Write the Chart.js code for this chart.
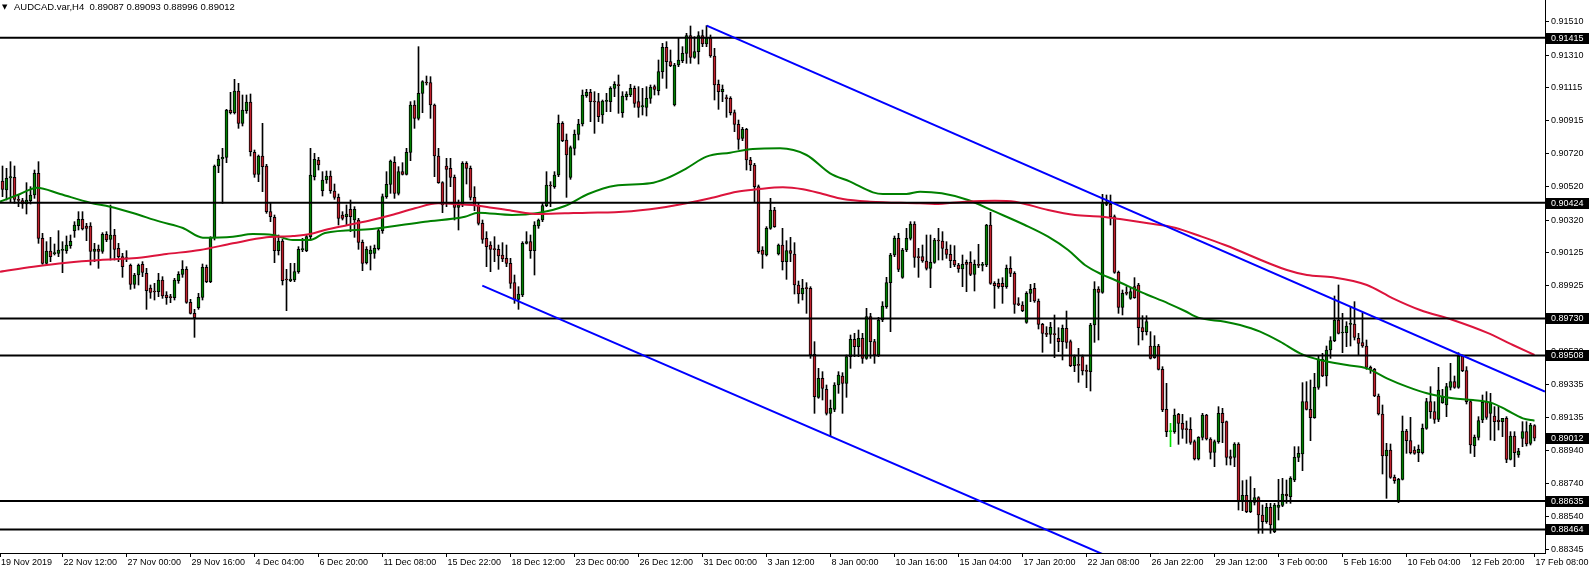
<!DOCTYPE html>
<html>
<head>
    <meta charset="utf-8">
    <title>AUDCAD.var,H4</title>
    <script src="https://cdn.jsdelivr.net/npm/chart.js"></script>
    <style>
        html, body { margin: 0; padding: 0; background: #fff; }
        canvas { display: block; }
    </style>
</head>
<body>
    <canvas id="chart" width="1589" height="569"></canvas>

    <script>
        // H4 bars, 19 Nov 2019 .. 17 Feb 2020
        var opens = [
            0.90555,0.90501,0.90573,0.90577,0.90443,0.90437,0.90417,0.90437,0.90471,0.90601,0.90211,0.90061,
            0.90135,0.90119,0.90121,0.90139,0.90137,0.90167,0.90257,0.90287,0.90325,0.90285,0.90285,0.90133,
            0.90147,0.90133,0.90235,0.90205,0.90231,0.90151,0.90101,0.90093,0.90049,0.89935,0.89991,0.90055,
            0.90001,0.89913,0.89893,0.89891,0.89961,0.89871,0.89859,0.89855,0.89957,0.89995,0.90025,0.89827,
            0.89761,0.89795,0.89857,0.90037,0.89951,0.90213,0.90645,0.90687,0.90697,0.90981,0.90965,0.91095,
            0.90901,0.90977,0.91029,0.90727,0.90595,0.90705,0.90645,0.90371,0.90337,0.90137,0.90195,0.89965,
            0.89957,0.89961,0.90011,0.90143,0.90137,0.90221,0.90581,0.90681,0.90497,0.90561,0.90585,0.90495,
            0.90457,0.90351,0.90341,0.90385,0.90321,0.90321,0.90187,0.90065,0.90117,0.90121,0.90149,0.90257,
            0.90461,0.90535,0.90667,0.90481,0.90611,0.90595,0.90727,0.91011,0.90931,0.91081,0.91147,0.91145,
            0.91011,0.90705,0.90545,0.90645,0.90631,0.90577,0.90397,0.90411,0.90661,0.90631,0.90457,0.90407,
            0.90301,0.90211,0.90171,0.90147,0.90145,0.90111,0.90091,0.90061,0.89945,0.89845,0.89871,0.90181,
            0.90191,0.90137,0.90285,0.90321,0.90407,0.90529,0.90521,0.90591,0.90901,0.90801,0.90577,0.90751,
            0.90835,0.90897,0.91067,0.91087,0.91033,0.91031,0.90951,0.91033,0.91031,0.91111,0.91131,0.90965,
            0.91061,0.91071,0.91111,0.91031,0.90999,0.90997,0.91051,0.91121,0.91097,0.91211,0.91357,0.91271,
            0.91011,0.91251,0.91277,0.91321,0.91427,0.91297,0.91331,0.91427,0.91377,0.91411,0.91305,0.91135,
            0.91091,0.91053,0.91051,0.90965,0.90895,0.90811,0.90865,0.90681,0.90651,0.90521,0.90141,0.90111,
            0.90271,0.90381,0.90117,0.90171,0.90071,0.90137,0.90117,0.89931,0.89877,0.89913,0.89911,0.89515,
            0.89257,0.89371,0.89305,0.89161,0.89185,0.89331,0.89385,0.89341,0.89501,0.89605,0.89561,0.89611,
            0.89491,0.89741,0.89591,0.89511,0.89721,0.89801,0.89945,0.90111,0.90211,0.89977,0.90141,0.90211,
            0.90297,0.90099,0.90101,0.90075,0.90031,0.90067,0.90199,0.90195,0.90147,0.90115,0.90079,0.90051,
            0.90027,0.90067,0.90067,0.89995,0.90053,0.90049,0.90051,0.90291,0.89941,0.89941,0.89941,0.89921,
            0.90031,0.90001,0.89817,0.89811,0.89707,0.89881,0.89911,0.89835,0.89695,0.89639,0.89635,0.89637,
            0.89611,0.89591,0.89671,0.89591,0.89447,0.89453,0.89501,0.89417,0.89411,0.89691,0.89907,0.89887,
            0.90415,0.90415,0.90341,0.90007,0.89797,0.89887,0.89851,0.89921,0.89931,0.89675,0.89651,0.89565,
            0.89495,0.89565,0.89425,0.89185,0.89051,0.89051,0.89155,0.89101,0.89067,0.89065,0.88991,0.88887,
            0.89017,0.89151,0.89007,0.88927,0.88991,0.89161,0.89111,0.88901,0.88897,0.88977,0.88631,0.88669,
            0.88571,0.88627,0.88655,0.88551,0.88511,0.88597,0.88451,0.88597,0.88609,0.88677,0.88661,0.88761,
            0.88897,0.88917,0.89231,0.89185,0.89135,0.89317,0.89485,0.89385,0.89541,0.89597,0.89721,0.89643,
            0.89645,0.89695,0.89697,0.89611,0.89585,0.89565,0.89437,0.89425,0.89265,0.89157,0.88905,0.88941,
            0.88777,0.88631,0.88765,0.89055,0.88997,0.88941,0.88925,0.88925,0.89071,0.89231,0.89171,0.89125,
            0.89225,0.89211,0.89317,0.89351,0.89317,0.89505,0.89417,0.89231,0.88967,0.89017,0.89121,0.89231,
            0.89161,0.89145,0.89121,0.89111,0.89131,0.88885,0.89025,0.88911,0.89011,0.89051,0.88981,0.89087
        ];
        var highs = [
            0.90645,0.90631,0.90671,0.90645,0.90471,0.90451,0.90545,0.90521,0.90621,0.90671,0.90241,0.90191,
            0.90217,0.90177,0.90257,0.90191,0.90225,0.90231,0.90311,0.90371,0.90371,0.90301,0.90305,0.90181,
            0.90171,0.90245,0.90251,0.90411,0.90265,0.90181,0.90121,0.90137,0.90057,0.90001,0.90057,0.90071,
            0.90031,0.89931,0.89941,0.90001,0.89981,0.89891,0.89875,0.89971,0.90011,0.90077,0.90041,0.89845,
            0.89785,0.89881,0.90057,0.90051,0.90221,0.90651,0.90711,0.90751,0.90985,0.91087,0.91165,0.91141,
            0.91071,0.91071,0.91077,0.90741,0.90711,0.90901,0.90655,0.90421,0.90351,0.90231,0.90205,0.90025,
            0.90061,0.90061,0.90161,0.90211,0.90231,0.90751,0.90721,0.90697,0.90611,0.90615,0.90615,0.90537,
            0.90477,0.90371,0.90411,0.90441,0.90401,0.90331,0.90201,0.90161,0.90165,0.90171,0.90271,0.90477,
            0.90611,0.90681,0.90701,0.90641,0.90665,0.90751,0.91031,0.91037,0.91361,0.91157,0.91185,0.91181,
            0.91017,0.90751,0.90551,0.90691,0.90691,0.90591,0.90441,0.90671,0.90671,0.90645,0.90521,0.90421,
            0.90321,0.90251,0.90191,0.90221,0.90171,0.90185,0.90171,0.90091,0.89991,0.89921,0.90191,0.90251,
            0.90231,0.90311,0.90327,0.90421,0.90611,0.90551,0.90611,0.90951,0.90911,0.90837,0.90765,0.90861,
            0.90925,0.91101,0.91105,0.91105,0.91091,0.91081,0.91041,0.91081,0.91121,0.91151,0.91191,0.91091,
            0.91091,0.91135,0.91125,0.91121,0.91111,0.91121,0.91131,0.91131,0.91281,0.91381,0.91391,0.91341,
            0.91261,0.91411,0.91361,0.91441,0.91485,0.91421,0.91451,0.91461,0.91487,0.91431,0.91351,0.91161,
            0.91131,0.91071,0.91061,0.90981,0.90921,0.90877,0.90871,0.90697,0.90661,0.90531,0.90161,0.90281,
            0.90451,0.90397,0.90177,0.90271,0.90197,0.90217,0.90185,0.89955,0.89965,0.89945,0.89921,0.89591,
            0.89431,0.89411,0.89331,0.89241,0.89345,0.89411,0.89405,0.89511,0.89631,0.89641,0.89661,0.89641,
            0.89791,0.89761,0.89605,0.89737,0.89831,0.89977,0.90121,0.90225,0.90241,0.90151,0.90271,0.90311,
            0.90311,0.90151,0.90171,0.90231,0.90231,0.90211,0.90271,0.90251,0.90191,0.90171,0.90167,0.90061,
            0.90111,0.90081,0.90131,0.90081,0.90175,0.90067,0.90295,0.90367,0.89951,0.89967,0.89975,0.90051,
            0.90101,0.90011,0.89855,0.89831,0.89891,0.89935,0.89941,0.89847,0.89701,0.89681,0.89707,0.89751,
            0.89675,0.89691,0.89775,0.89601,0.89511,0.89551,0.89511,0.89451,0.89701,0.89951,0.89921,0.90475,
            0.90471,0.90471,0.90351,0.90015,0.89901,0.89921,0.89911,0.89975,0.89941,0.89747,0.89747,0.89651,
            0.89627,0.89575,0.89441,0.89341,0.89101,0.89187,0.89161,0.89155,0.89115,0.89135,0.89001,0.89021,
            0.89161,0.89155,0.89015,0.89001,0.89201,0.89191,0.89115,0.88941,0.88985,0.88985,0.88757,0.88761,
            0.88781,0.88711,0.88661,0.88611,0.88621,0.88621,0.88621,0.88765,0.88771,0.88761,0.88781,0.88961,
            0.88961,0.89345,0.89351,0.89361,0.89401,0.89505,0.89521,0.89565,0.89621,0.89865,0.89931,0.89761,
            0.89711,0.89801,0.89831,0.89641,0.89765,0.89601,0.89445,0.89431,0.89277,0.89211,0.88981,0.88977,
            0.88791,0.88771,0.89145,0.89065,0.89137,0.88961,0.88971,0.89097,0.89251,0.89321,0.89231,0.89437,
            0.89305,0.89341,0.89461,0.89385,0.89525,0.89511,0.89441,0.89241,0.89031,0.89141,0.89271,0.89291,
            0.89281,0.89201,0.89205,0.89131,0.89141,0.89051,0.89051,0.88951,0.89111,0.89111,0.89101,0.89093
        ];
        var lows = [
            0.90461,0.90441,0.90431,0.90421,0.90401,0.90391,0.90357,0.90417,0.90451,0.90181,0.90055,0.90055,
            0.90071,0.90111,0.90101,0.90005,0.90121,0.90151,0.90217,0.90261,0.90261,0.90197,0.90051,0.90071,
            0.90031,0.90121,0.90191,0.90081,0.90081,0.90071,0.89977,0.90071,0.89905,0.89911,0.89931,0.89981,
            0.89785,0.89851,0.89841,0.89861,0.89851,0.89815,0.89825,0.89841,0.89941,0.89977,0.89821,0.89757,
            0.89617,0.89785,0.89841,0.89945,0.89945,0.90201,0.90605,0.90421,0.90665,0.90957,0.90957,0.90871,
            0.90885,0.90961,0.90705,0.90577,0.90551,0.90491,0.90361,0.90311,0.90065,0.90111,0.89931,0.89777,
            0.89951,0.89951,0.90001,0.90131,0.90131,0.90201,0.90561,0.90621,0.90465,0.90541,0.90481,0.90445,
            0.90291,0.90321,0.90291,0.90251,0.90217,0.90145,0.90017,0.90057,0.90021,0.90091,0.90141,0.90241,
            0.90451,0.90481,0.90451,0.90471,0.90591,0.90591,0.90677,0.90871,0.90921,0.90965,0.91131,0.90931,
            0.90581,0.90541,0.90365,0.90401,0.90521,0.90321,0.90261,0.90401,0.90537,0.90441,0.90377,0.90291,
            0.90181,0.90041,0.90011,0.90071,0.90025,0.90071,0.90041,0.89911,0.89821,0.89785,0.89861,0.90177,
            0.90091,0.89991,0.90271,0.90311,0.90401,0.90401,0.90511,0.90581,0.90791,0.90457,0.90565,0.90711,
            0.90801,0.90885,0.91057,0.90911,0.90841,0.90911,0.90901,0.90971,0.90971,0.91061,0.90961,0.90937,
            0.91041,0.91061,0.90997,0.90937,0.90951,0.90945,0.91021,0.91071,0.91071,0.91171,0.91111,0.91241,
            0.91005,0.91241,0.91265,0.91261,0.91261,0.91291,0.91257,0.91361,0.91361,0.91297,0.91041,0.90985,
            0.91031,0.90937,0.90951,0.90851,0.90745,0.90797,0.90621,0.90617,0.90431,0.90121,0.90031,0.90105,
            0.90265,0.90277,0.90111,0.90021,0.89965,0.90071,0.89877,0.89821,0.89841,0.89761,0.89491,0.89161,
            0.89251,0.89241,0.89151,0.89021,0.89171,0.89281,0.89161,0.89257,0.89431,0.89501,0.89501,0.89461,
            0.89485,0.89491,0.89461,0.89501,0.89711,0.89791,0.89651,0.90101,0.90011,0.89971,0.90131,0.90201,
            0.90037,0.89977,0.90067,0.90021,0.89915,0.90061,0.90081,0.90081,0.90091,0.90035,0.90041,0.90007,
            0.89921,0.89891,0.89987,0.89895,0.90035,0.90015,0.90041,0.89935,0.89791,0.89911,0.89821,0.89911,
            0.89981,0.89761,0.89807,0.89771,0.89701,0.89831,0.89827,0.89667,0.89527,0.89621,0.89581,0.89495,
            0.89531,0.89481,0.89551,0.89441,0.89411,0.89347,0.89391,0.89315,0.89295,0.89587,0.89601,0.89881,
            0.90407,0.90291,0.90001,0.89761,0.89751,0.89871,0.89845,0.89851,0.89571,0.89601,0.89631,0.89487,
            0.89491,0.89421,0.89171,0.89021,0.88961,0.89041,0.88975,0.89011,0.88981,0.88975,0.88881,0.88881,
            0.89001,0.89001,0.88887,0.88841,0.88981,0.88985,0.88851,0.88851,0.88841,0.88581,0.88577,0.88565,
            0.88565,0.88611,0.88441,0.88441,0.88501,0.88441,0.88445,0.88521,0.88601,0.88621,0.88621,0.88751,
            0.88871,0.88817,0.89181,0.88997,0.89131,0.89305,0.89381,0.89325,0.89491,0.89591,0.89637,0.89525,
            0.89561,0.89565,0.89601,0.89511,0.89557,0.89425,0.89401,0.89261,0.89151,0.88797,0.88651,0.88771,
            0.88741,0.88625,0.88761,0.88921,0.88917,0.88915,0.88871,0.88917,0.89065,0.89131,0.89101,0.89111,
            0.89221,0.89141,0.89301,0.89311,0.89311,0.89411,0.89217,0.88921,0.88901,0.89001,0.89105,0.89125,
            0.89001,0.88997,0.89061,0.89021,0.88865,0.88881,0.88841,0.88897,0.88961,0.88965,0.88971,0.88996
        ];
        var closes = [
            0.90505,0.90571,0.90581,0.90445,0.90439,0.90417,0.90441,0.90471,0.90601,0.90211,0.90061,0.90135,
            0.90101,0.90123,0.90141,0.90143,0.90171,0.90193,0.90291,0.90325,0.90267,0.90271,0.90133,0.90147,
            0.90133,0.90235,0.90201,0.90231,0.90145,0.90101,0.90041,0.90089,0.89935,0.89991,0.90049,0.90007,
            0.89897,0.89887,0.89889,0.89961,0.89865,0.89855,0.89855,0.89961,0.89995,0.90025,0.89827,0.89761,
            0.89735,0.89857,0.90037,0.89951,0.90213,0.90645,0.90687,0.90697,0.90981,0.90965,0.91095,0.90901,
            0.90981,0.91029,0.90731,0.90595,0.90705,0.90641,0.90371,0.90341,0.90137,0.90195,0.89957,0.89961,
            0.89967,0.90011,0.90145,0.90147,0.90221,0.90591,0.90685,0.90651,0.90561,0.90585,0.90497,0.90457,
            0.90331,0.90331,0.90357,0.90341,0.90385,0.90187,0.90061,0.90145,0.90141,0.90151,0.90257,0.90461,
            0.90535,0.90675,0.90481,0.90611,0.90595,0.90727,0.91011,0.90931,0.91081,0.91151,0.91143,0.91011,
            0.90705,0.90545,0.90411,0.90625,0.90577,0.90397,0.90411,0.90661,0.90631,0.90457,0.90407,0.90301,
            0.90205,0.90161,0.90145,0.90143,0.90105,0.90087,0.90061,0.89941,0.89845,0.89877,0.90181,0.90191,
            0.90137,0.90291,0.90321,0.90407,0.90531,0.90525,0.90591,0.90901,0.90797,0.90711,0.90755,0.90835,
            0.90897,0.91071,0.91087,0.91031,0.91029,0.90941,0.91035,0.91037,0.91111,0.91135,0.91127,0.91065,
            0.91077,0.91111,0.91021,0.90997,0.91007,0.91051,0.91117,0.91105,0.91211,0.91357,0.91271,0.91247,
            0.91251,0.91281,0.91321,0.91427,0.91297,0.91331,0.91427,0.91377,0.91411,0.91305,0.91131,0.91091,
            0.91105,0.91049,0.90965,0.90895,0.90805,0.90865,0.90681,0.90651,0.90521,0.90131,0.90115,0.90271,
            0.90381,0.90281,0.90171,0.90071,0.90137,0.90121,0.89931,0.89877,0.89911,0.89909,0.89511,0.89261,
            0.89371,0.89311,0.89161,0.89191,0.89331,0.89391,0.89341,0.89501,0.89605,0.89561,0.89611,0.89491,
            0.89741,0.89591,0.89511,0.89721,0.89805,0.89945,0.90111,0.90211,0.90025,0.90141,0.90211,0.90297,
            0.90097,0.90095,0.90075,0.90031,0.90067,0.90201,0.90195,0.90151,0.90115,0.90077,0.90051,0.90027,
            0.90055,0.90055,0.89995,0.90055,0.90049,0.90053,0.90291,0.89941,0.89927,0.89921,0.89921,0.90031,
            0.90001,0.89815,0.89813,0.89777,0.89881,0.89905,0.89835,0.89695,0.89641,0.89635,0.89677,0.89633,
            0.89591,0.89671,0.89587,0.89447,0.89501,0.89449,0.89415,0.89413,0.89691,0.89907,0.89887,0.90421,
            0.90419,0.90341,0.90007,0.89797,0.89881,0.89881,0.89891,0.89855,0.89675,0.89651,0.89711,0.89491,
            0.89565,0.89425,0.89181,0.89051,0.89051,0.89151,0.89101,0.89065,0.89063,0.88987,0.88887,0.89017,
            0.89151,0.89007,0.88927,0.88991,0.89161,0.89105,0.88897,0.88891,0.88977,0.88631,0.88669,0.88571,
            0.88631,0.88655,0.88551,0.88511,0.88597,0.88491,0.88611,0.88611,0.88677,0.88665,0.88771,0.88897,
            0.88921,0.89231,0.89185,0.89135,0.89317,0.89485,0.89385,0.89541,0.89597,0.89721,0.89641,0.89647,
            0.89685,0.89699,0.89617,0.89581,0.89565,0.89437,0.89425,0.89265,0.89157,0.88905,0.88941,0.88777,
            0.88757,0.88765,0.89055,0.88997,0.88925,0.88921,0.88945,0.89071,0.89231,0.89171,0.89125,0.89301,
            0.89257,0.89321,0.89351,0.89317,0.89505,0.89417,0.89231,0.88971,0.89017,0.89117,0.89227,0.89137,
            0.89225,0.89111,0.89111,0.89131,0.88885,0.89025,0.88925,0.88935,0.89051,0.88977,0.89091,0.89012
        ];

        // time axis: a label every 16 bars
        var tickBars = [-0.625, 15, 31, 47, 63, 79, 95, 111, 127, 143, 159, 175, 191,
                        207, 223, 239, 255, 271, 287, 303, 319, 335, 351, 367, 383];
        var tickLabels = ['19 Nov 2019', '22 Nov 12:00', '27 Nov 00:00', '29 Nov 16:00', '4 Dec 04:00',
            '6 Dec 20:00', '11 Dec 08:00', '15 Dec 22:00', '18 Dec 12:00', '23 Dec 00:00', '26 Dec 12:00',
            '31 Dec 00:00', '3 Jan 12:00', '8 Jan 00:00', '10 Jan 16:00', '15 Jan 04:00', '17 Jan 20:00',
            '22 Jan 08:00', '26 Jan 22:00', '29 Jan 12:00', '3 Feb 00:00', '5 Feb 16:00', '10 Feb 04:00',
            '12 Feb 20:00', '17 Feb 08:00'];

        // price axis
        var priceTicks = [0.91510, 0.91310, 0.91115, 0.90915, 0.90720, 0.90520, 0.90320, 0.90125, 0.89925,
                          0.89730, 0.89530, 0.89335, 0.89135, 0.88940, 0.88740, 0.88540, 0.88345];
        var levels = [0.91415, 0.90424, 0.89730, 0.89508, 0.88635, 0.88464];

        // moving averages (green = fast, red = slow), sampled along the bars
        var maFastBars = [-0.625, 4.4, 8.6, 14.4, 21.9, 26.9, 32.6, 39.4, 45.1, 50.1, 57.6, 62.6, 67.6, 72.6,
            76.9, 80.6, 92.4, 105.6, 115.6, 118.9, 127.4, 133.9, 140.6, 146.4, 153.1, 161.9, 166, 171, 176,
            181.9, 187.6, 194.4, 201, 206.9, 211.9, 217.6, 220.1, 226, 229.4, 234.8, 241.4, 248.1, 255.6,
            261.4, 266.4, 270.6, 274.8, 278.1, 284.8, 291.4, 295.6, 298.9, 305.6, 309.4, 314.4, 319.4, 324.4,
            329.4, 336.1, 341.1, 346.1, 351.1, 356.1, 362.6, 367.6, 372.6, 376, 380.1, 383];
        var maFastValues = [0.90431, 0.90477, 0.90515, 0.90477, 0.90425, 0.90401, 0.90363, 0.90311, 0.90273,
            0.90215, 0.90221, 0.90237, 0.90231, 0.90201, 0.90201, 0.90243, 0.90267, 0.90311, 0.90341, 0.90365,
            0.90351, 0.90363, 0.90405, 0.90477, 0.90527, 0.90541, 0.90571, 0.90631, 0.90701, 0.90725, 0.90747,
            0.90751, 0.90711, 0.90601, 0.90551, 0.90487, 0.90477, 0.90477, 0.90491, 0.90481, 0.90441, 0.90371,
            0.90291, 0.90221, 0.90141, 0.90051, 0.89995, 0.89961, 0.89887, 0.89821, 0.89775, 0.89735, 0.89711,
            0.89691, 0.89651, 0.89591, 0.89521, 0.89481, 0.89451, 0.89431, 0.89371, 0.89321, 0.89281, 0.89251,
            0.89241, 0.89221, 0.89181, 0.89131, 0.89117];
        var maSlowBars = [-0.625, 7.7, 16, 24.4, 32.6, 41, 49.4, 57.6, 66, 72.6, 76.9, 80.6, 86.4, 92.3, 97.3,
            103.1, 108.9, 113.1, 117.3, 122.3, 127.3, 133.9, 140.6, 146.4, 153.1, 161.9, 171, 176.9, 183.6,
            188.6, 195.1, 200.1, 205.1, 210.1, 216.9, 229.4, 233.1, 240.6, 248.1, 253.1, 261.4, 268.1, 274.8,
            279.8, 286.4, 293.1, 299.8, 305.6, 321.1, 326.1, 332.6, 341.1, 347.6, 354.4, 362.6, 371.1, 377.6, 383];
        var maSlowValues = [0.90011, 0.90041, 0.90065, 0.90081, 0.90091, 0.90117, 0.90141, 0.90181, 0.90217,
            0.90225, 0.90237, 0.90261, 0.90291, 0.90321, 0.90351, 0.90391, 0.90421, 0.90417, 0.90411, 0.90395,
            0.90377, 0.90357, 0.90361, 0.90365, 0.90367, 0.90385, 0.90421, 0.90451, 0.90491, 0.90505, 0.90517,
            0.90505, 0.90477, 0.90447, 0.90431, 0.90421, 0.90417, 0.90431, 0.90437, 0.90431, 0.90381, 0.90351,
            0.90341, 0.90325, 0.90301, 0.90275, 0.90221, 0.90171, 0.90021, 0.89991, 0.89977, 0.89931, 0.89851,
            0.89781, 0.89721, 0.89645, 0.89571, 0.89511];

        // channel lines (bar position, price)
        var trendTopBars = [176.05, 385.6];
        var trendTopValues = [0.91487, 0.89291];
        var trendLowBars = [119.95, 279.4];
        var trendLowValues = [0.89927, 0.88271];

        var xMin = -0.625, xMax = 385.625;
        var yMin = 0.88323, yMax = 0.91641;

        var BULL = '#008000', BEAR = '#c0202c', DOJI = '#00e000';

        function points(xs, ys) {
            return xs.map(function (x, j) { return { x: x, y: ys[j] }; });
        }

        var bars = opens.map(function (o, k) { return k; });
        var wickColors = bars.map(function (k) { return opens[k] === closes[k] ? DOJI : '#000'; });
        var bodyColors = bars.map(function (k) {
            if (closes[k] > opens[k]) return BULL;
            if (closes[k] < opens[k]) return BEAR;
            return DOJI;
        });

        var datasets = [
            {
                type: 'bar', label: 'wicks', order: 6,
                data: bars.map(function (k) { return { x: k, y: [lows[k], highs[k]] }; }),
                backgroundColor: wickColors, borderWidth: 0,
                barThickness: 1, grouped: false
            },
            {
                type: 'bar', label: 'bodies', order: 5,
                data: bars.map(function (k) { return { x: k, y: [opens[k], closes[k]] }; }),
                backgroundColor: bodyColors, borderColor: wickColors, borderWidth: 1,
                borderSkipped: false, barThickness: 3, minBarLength: 1, grouped: false
            },
            {
                type: 'line', label: 'ma slow', order: 4, data: points(maSlowBars, maSlowValues),
                borderColor: '#dc143c', borderWidth: 2, pointRadius: 0, cubicInterpolationMode: 'monotone'
            },
            {
                type: 'line', label: 'ma fast', order: 4, data: points(maFastBars, maFastValues),
                borderColor: '#008000', borderWidth: 2, pointRadius: 0, cubicInterpolationMode: 'monotone'
            },
            {
                type: 'line', label: 'top', order: 1, data: points(trendTopBars, trendTopValues),
                borderColor: '#0000ff', borderWidth: 2, pointRadius: 0
            },
            {
                type: 'line', label: 'low', order: 1, data: points(trendLowBars, trendLowValues),
                borderColor: '#0000ff', borderWidth: 2, pointRadius: 0
            }
        ];
        levels.forEach(function (v) {
            datasets.push({
                type: 'line', label: 'level', order: 2,
                data: [{ x: xMin, y: v }, { x: xMax, y: v }],
                borderColor: '#000', borderWidth: 2, pointRadius: 0
            });
        });

        // title line and the black price boxes on the axis
        var overlay = {
            id: 'overlay',
            afterDraw: function (chart) {
                var ctx = chart.ctx;
                var y = chart.scales.y;
                var last = closes.length - 1;
                ctx.save();
                ctx.fillStyle = '#000';
                ctx.textBaseline = 'alphabetic';
                ctx.textAlign = 'left';
                ctx.font = '7px "DejaVu Sans"';
                ctx.fillText('\u25BC', 2, 9);
                ctx.font = '9.5px "Liberation Sans"';
                ctx.fillText('AUDCAD.var,H4  ' + [opens[last], highs[last], lows[last], closes[last]]
                    .map(function (v) { return v.toFixed(5); }).join(' '), 14, 9.5);

                ctx.font = '9px "Liberation Sans"';
                levels.concat([closes[last]]).forEach(function (v) {
                    var py = Math.round(y.getPixelForValue(v));
                    ctx.fillStyle = '#000';
                    ctx.fillRect(1546, py - 5, 43, 11);
                    ctx.fillStyle = '#fff';
                    ctx.textBaseline = 'middle';
                    ctx.fillText(v.toFixed(5), 1551, py + 0.5);
                });
                ctx.restore();
            }
        };

        Chart.defaults.font.family = '"Liberation Sans", Arial, sans-serif';

        new Chart(document.getElementById('chart'), {
            type: 'bar',
            data: { datasets: datasets },
            plugins: [overlay],
            options: {
                responsive: false,
                animation: false,
                devicePixelRatio: 1,
                layout: { padding: 0, autoPadding: false },
                plugins: { legend: { display: false }, tooltip: { enabled: false } },
                scales: {
                    x: {
                        type: 'linear', min: xMin, max: xMax, offset: false,
                        grid: { drawOnChartArea: false, offset: false, tickLength: 4, color: '#000' },
                        border: { color: '#000', width: 1 },
                        afterBuildTicks: function (scale) {
                            scale.ticks = tickBars.map(function (b) { return { value: b }; });
                        },
                        afterFit: function (scale) {
                            scale.height = 16;
                            scale.paddingLeft = 0;
                            scale.paddingRight = 0;
                        },
                        ticks: {
                            autoSkip: false, maxRotation: 0, align: 'start', labelOffset: 1, padding: 0,
                            color: '#000', font: { size: 9 },
                            callback: function (value, i) { return tickLabels[i]; }
                        }
                    },
                    y: {
                        position: 'right', min: yMin, max: yMax, beginAtZero: false,
                        grid: { drawOnChartArea: false, tickLength: 4, color: '#000' },
                        border: { color: '#000', width: 1 },
                        afterBuildTicks: function (scale) {
                            scale.ticks = priceTicks.map(function (v) { return { value: v }; });
                        },
                        afterFit: function (scale) {
                            scale.width = 44;
                            scale.paddingTop = 0;
                            scale.paddingBottom = 0;
                        },
                        ticks: {
                            padding: 2, color: '#000', font: { size: 9 },
                            callback: function (value) { return value.toFixed(5); }
                        }
                    }
                }
            }
        });
    </script>
</body>
</html>
